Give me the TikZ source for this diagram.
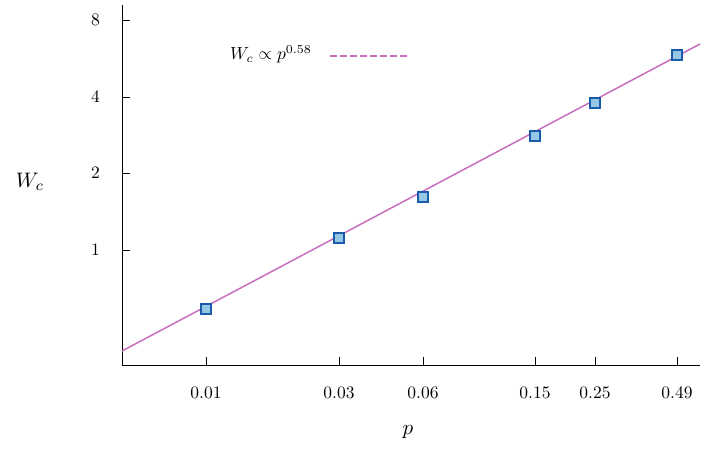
\documentclass[tikz,border=0pt]{standalone}
\begin{document}
\begin{tikzpicture}[x=1pt,y=-1pt,
  ax/.style={line width=0.8pt,black},
  lab/.style={scale=1.75},
  mk/.style={draw={rgb,255:red,25;green,90;blue,170},fill={rgb,255:red,150;green,200;blue,230},line width=1.2pt,minimum size=10pt,inner sep=0pt,rectangle},
  fit/.style={draw={rgb,255:red,200;green,110;blue,190},line width=1.5pt}]
\useasboundingbox (0,0) rectangle (706,451);
\coordinate (o) at (122,365);
\coordinate (t) at (122,5);
\coordinate (r) at (700,365);
\draw[ax] (t) -- (o) -- (r);
\foreach \y/\l in {20/8,97/4,173/2,250/1}{
  \draw[ax] (122,\y) -- (130,\y);
  \node[lab,anchor=east] (yl\l) at (106,\y) {\l};}
\foreach \x/\l [count=\i] in {206/0.01,339/0.03,423/0.06,535/0.15,595/0.25,677/0.49}{
  \draw[ax] (\x,365) -- (\x,357);
  \node[lab] (xl\i) at (\x,393) {\l};}
\node[scale=2.1] (xlab) at (408,432) {$p$};
\node[scale=2.1] (ylab) at (30,182) {$W_c$};
\coordinate (f1) at (122,351);
\coordinate (f2) at (700,44);
\draw[fit] (f1) -- (f2);
\node[lab,anchor=east] (leg) at (318,54) {$W_c\propto p^{0.58}$};
\coordinate (l1) at (330,56);
\coordinate (l2) at (408,56);
\draw[fit,dash pattern=on 7pt off 3pt] (l1) -- (l2);
\foreach \x/\y [count=\i] in {206/309,339/238,423/197,535/136,595/103,677/55}
  \node[mk] (m\i) at (\x,\y) {};
\end{tikzpicture}
\end{document}
